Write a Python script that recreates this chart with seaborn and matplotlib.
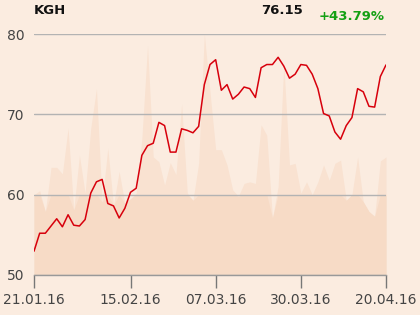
import numpy as np
import pandas as pd
import matplotlib
matplotlib.use("Agg")
import matplotlib.pyplot as plt
import seaborn as sns

ticker = "KGH"
last_price = "76.15"
change = "+43.79%"
tick_labels = ["21.01.16", "15.02.16", "07.03.16", "30.03.16", "20.04.16"]
tick_positions = [0, 17, 32, 47, 62]
y_ticks = [50, 60, 70, 80]

price = [52.96, 55.2, 55.2, 56.1, 57.0, 56.0, 57.5, 56.2, 56.1, 56.9,
         60.2, 61.6, 61.9, 58.9, 58.6, 57.1, 58.3, 60.3, 60.8, 64.9,
         66.1, 66.4, 69.0, 68.6, 65.3, 65.3, 68.2, 68.0, 67.7, 68.5,
         73.7, 76.2, 76.8, 73.0, 73.7, 71.9, 72.5, 73.4, 73.2, 72.1,
         75.8, 76.2, 76.2, 77.1, 76.0, 74.5, 75.0, 76.2, 76.1, 75.0,
         73.2, 70.1, 69.8, 67.8, 66.9, 68.6, 69.6, 73.2, 72.8, 71.0,
         70.9, 74.7, 76.15]

volume = [10.0, 10.5, 7.9, 13.4, 13.4, 12.6, 18.3, 8.1, 14.9, 10.2,
          18.3, 23.2, 9.1, 15.8, 8.7, 12.9, 8.9, 9.5, 10.2, 17.0,
          28.6, 14.7, 14.1, 11.2, 14.0, 12.5, 21.3, 10.2, 9.3, 13.9,
          30.0, 22.8, 15.6, 15.6, 13.7, 10.6, 9.8, 11.4, 11.6, 11.4,
          18.7, 17.4, 7.1, 11.0, 26.3, 13.7, 13.9, 10.2, 11.6, 10.0,
          11.6, 13.7, 11.8, 13.9, 14.3, 9.3, 10.0, 14.7, 9.1, 7.9,
          7.3, 14.2, 14.7]

df = pd.DataFrame({"day": np.arange(len(price)), "price": price, "volume": volume})
df["volume_low"] = df["volume"].clip(upper=10)

sns.set_theme(style="white")
plt.rcParams['font.family'] = ['DejaVu Sans']

bg = "#fbece0"
fig = plt.figure(figsize=(4.2, 3.15), dpi=100, facecolor=bg)
ax = fig.add_axes([34/420, 40/315, 352/420, 241/315])
ax_vol = ax.twinx()
ax_vol.set_zorder(0)
ax.set_zorder(1)
ax.patch.set_visible(False)
ax_vol.patch.set_visible(True)
ax_vol.patch.set_facecolor(bg)

ax_vol.fill_between(df["day"], 0, df["volume"], color="#f9e2d1", linewidth=0)
ax_vol.fill_between(df["day"], 0, df["volume_low"], color="#f7dbc6", linewidth=0)
ax_vol.set_ylim(0, 30)
ax_vol.set_yticks([])
for s in ax_vol.spines.values():
    s.set_visible(False)

sns.lineplot(data=df, x="day", y="price", ax=ax, color="#d7000c", linewidth=1.1)
ax.set_xlim(0, 62)
ax.set_ylim(50, 80)
ax.set_yticks(y_ticks)
ax.set_yticklabels([str(v) for v in y_ticks])
ax.set_xticks(tick_positions)
ax.set_xticklabels(tick_labels)
ax.set_xlabel("")
ax.set_ylabel("")
ax.grid(axis="y", color="#b3b3b3", linewidth=1)
ax.grid(axis="x", visible=False)
for side in ["top", "right", "left"]:
    ax.spines[side].set_visible(False)
ax.spines["bottom"].set_color("#999999")
ax.spines["bottom"].set_linewidth(1)
ax.tick_params(axis="x", length=9, width=1, color="#777777", pad=4,
               labelsize=10, labelcolor="#444444", bottom=True)
ax.tick_params(axis="y", length=0, pad=7, labelsize=10, labelcolor="#444444")

fig.text(34/420, 1 - 11/315, ticker, fontsize=9.5, fontweight="bold",
         color="#111111", ha="left", va="center")
fig.text(303/420, 1 - 10/315, last_price, fontsize=9.5, fontweight="bold",
         color="#111111", ha="right", va="center")
fig.text(385/420, 1 - 16/315, change, fontsize=9.5, fontweight="bold",
         color="#14a014", ha="right", va="center")

fig.savefig("out.png", dpi=100, facecolor=bg)
